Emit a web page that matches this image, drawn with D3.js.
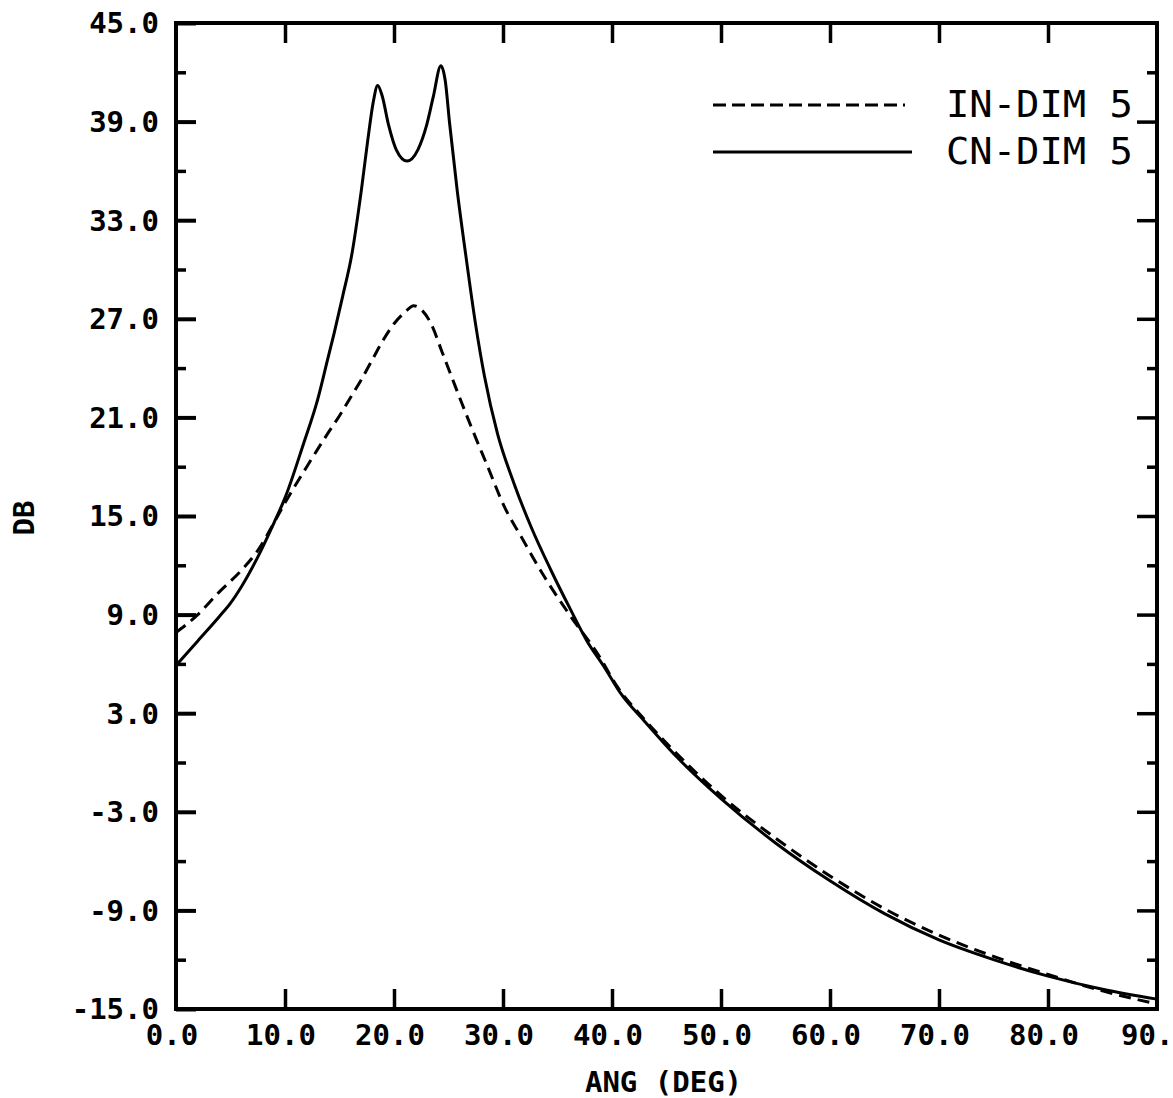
<!DOCTYPE html>
<html>
<head>
<meta charset="utf-8">
<script src="https://cdn.jsdelivr.net/npm/d3@7/dist/d3.min.js"></script>
<style>
  html, body { margin: 0; padding: 0; background: #fff; }
  svg { display: block; }
</style>
</head>
<body>
<svg id="chart" width="1173" height="1098"></svg>
<script>
// ---- data ----
const seriesNames = ["IN-DIM 5", "CN-DIM 5"];

const angIN = [0, 2, 4, 6, 7.5, 9, 10, 12, 14, 15, 16, 17, 18, 19, 20, 21, 21.8, 22.6, 23.4, 24.4, 25.5, 27.1, 28.6, 30.1, 31.7, 33.8, 36.2, 38.7, 40.5, 43, 46, 50, 55, 60, 65, 70, 75, 80, 85, 90];
const dbIN  = [7.9, 9.0, 10.4, 11.7, 12.9, 14.6, 15.8, 18.0, 20.1, 21.1, 22.2, 23.3, 24.5, 25.7, 26.7, 27.4, 27.8, 27.5, 26.7, 25.0, 23.1, 20.4, 18.0, 15.6, 13.7, 11.3, 8.9, 6.6, 4.6, 2.6, 0.5, -2.0, -4.6, -6.9, -8.9, -10.5, -11.8, -12.9, -13.9, -14.7];

const angCN = [0, 2, 4, 5, 6, 7.5, 9, 10, 11.7, 13, 13.9, 14.5, 15.3, 16.1, 17, 17.6, 18.1, 18.5, 18.9, 19.5, 20.2, 21.2, 22.2, 23.0, 23.6, 24.3, 24.7, 25.1, 25.8, 26.6, 27.5, 28.3, 29.5, 31.0, 32.6, 34.4, 36.2, 37.7, 39.3, 40.8, 43, 46, 50, 55, 60, 65, 70, 75, 80, 85, 90];
const dbCN  = [5.9, 7.4, 8.9, 9.7, 10.7, 12.5, 14.6, 16.1, 19.4, 22.1, 24.5, 26.1, 28.4, 30.8, 34.8, 37.9, 40.2, 41.2, 40.6, 38.8, 37.3, 36.6, 37.3, 38.8, 40.5, 42.4, 41.5, 38.9, 34.8, 30.8, 26.6, 23.5, 20.0, 17.0, 14.3, 11.7, 9.3, 7.4, 5.8, 4.2, 2.5, 0.3, -2.2, -4.9, -7.2, -9.2, -10.8, -12.0, -13.0, -13.8, -14.4];

const xTicks = [0, 10, 20, 30, 40, 50, 60, 70, 80, 90];
const xTickLabels = ["0.0", "10.0", "20.0", "30.0", "40.0", "50.0", "60.0", "70.0", "80.0", "90."];
const yTicks = [-15, -9, -3, 3, 9, 15, 21, 27, 33, 39, 45];
const yTickLabels = ["-15.0", "-9.0", "-3.0", "3.0", "9.0", "15.0", "21.0", "27.0", "33.0", "39.0", "45.0"];
const yMinorTicks = [-12, -6, 0, 6, 12, 18, 24, 30, 36, 42];

const xTitle = "ANG (DEG)";
const yTitle = "DB";

// ---- layout ----
const L = 176, R = 1157, T = 23, B = 1009;
const FONT = "'DejaVu Sans Mono', monospace";

const svg = d3.select("#chart");
const x = d3.scaleLinear().domain([0, 90]).range([L, R]);
const y = d3.scaleLinear().domain([-15, 45]).range([B, T]);

const axisStroke = 4;

// frame
svg.append("rect")
  .attr("x", L).attr("y", T).attr("width", R - L).attr("height", B - T)
  .attr("fill", "none").attr("stroke", "#000").attr("stroke-width", axisStroke);

// left axis
const gLeft = svg.append("g").attr("transform", `translate(${L},0)`);
gLeft.call(d3.axisRight(y).tickValues(yTicks).tickSize(20).tickFormat(""))
  .call(g => g.select(".domain").remove())
  .call(g => g.selectAll(".tick line").attr("stroke", "#000").attr("stroke-width", 4));
gLeft.append("g").call(d3.axisRight(y).tickValues(yMinorTicks).tickSize(10).tickFormat(""))
  .call(g => g.select(".domain").remove())
  .call(g => g.selectAll(".tick line").attr("stroke", "#000").attr("stroke-width", 3.5));

// left tick labels
svg.append("g").selectAll("text").data(yTicks).join("text")
  .attr("x", L - 17)
  .attr("y", d => y(d))
  .attr("dy", "0.36em")
  .attr("text-anchor", "end")
  .attr("font-family", FONT).attr("font-weight", "bold").attr("font-size", 29)
  .text((d, i) => yTickLabels[i]);

// right axis
const gRight = svg.append("g").attr("transform", `translate(${R},0)`);
gRight.call(d3.axisLeft(y).tickValues(yTicks.filter(v => v > -15 && v < 45)).tickSize(20).tickFormat(""))
  .call(g => g.select(".domain").remove())
  .call(g => g.selectAll(".tick line").attr("stroke", "#000").attr("stroke-width", 3.5));
gRight.append("g").call(d3.axisLeft(y).tickValues(yMinorTicks).tickSize(10).tickFormat(""))
  .call(g => g.select(".domain").remove())
  .call(g => g.selectAll(".tick line").attr("stroke", "#000").attr("stroke-width", 3.5));

// bottom axis
const innerX = xTicks.filter(v => v > 0 && v < 90);
svg.append("g").attr("transform", `translate(0,${B})`)
  .call(d3.axisTop(x).tickValues(innerX).tickSize(20).tickFormat(""))
  .call(g => g.select(".domain").remove())
  .call(g => g.selectAll(".tick line").attr("stroke", "#000").attr("stroke-width", 3.5));
// top axis
svg.append("g").attr("transform", `translate(0,${T})`)
  .call(d3.axisBottom(x).tickValues(innerX).tickSize(20).tickFormat(""))
  .call(g => g.select(".domain").remove())
  .call(g => g.selectAll(".tick line").attr("stroke", "#000").attr("stroke-width", 3.5));

// bottom tick labels
svg.append("g").selectAll("text").data(xTicks).join("text")
  .attr("x", d => x(d) - 4)
  .attr("y", 1035)
  .attr("dy", "0.36em")
  .attr("text-anchor", (d, i) => i === xTicks.length - 1 ? "start" : "middle")
  .attr("dx", (d, i) => i === xTicks.length - 1 ? -32 : 0)
  .attr("font-family", FONT).attr("font-weight", "bold").attr("font-size", 29)
  .text((d, i) => xTickLabels[i]);

// axis titles
svg.append("text")
  .attr("x", (L + R) / 2 - 3).attr("y", 1082).attr("dy", "0.36em")
  .attr("text-anchor", "middle")
  .attr("font-family", FONT).attr("font-weight", "bold").attr("font-size", 29)
  .text(xTitle);

svg.append("text")
  .attr("transform", `translate(24,${(T + B) / 2 + 2}) rotate(-90)`)
  .attr("dy", "0.36em")
  .attr("text-anchor", "middle")
  .attr("font-family", FONT).attr("font-weight", "bold").attr("font-size", 29)
  .text(yTitle);

// curves
const line = d3.line()
  .x(d => x(d[0])).y(d => y(d[1]))
  .curve(d3.curveMonotoneX);

const inData = angIN.map((a, i) => [a, dbIN[i]]);
const cnData = angCN.map((a, i) => [a, dbCN[i]]);

svg.append("path").datum(inData)
  .attr("d", line)
  .attr("fill", "none").attr("stroke", "#000").attr("stroke-width", 3)
  .attr("stroke-dasharray", "12,7");

svg.append("path").datum(cnData)
  .attr("d", line)
  .attr("fill", "none").attr("stroke", "#000").attr("stroke-width", 3);

// legend
const legend = svg.append("g");
const legY = [105, 152];
const legDash = ["13,6", null];
seriesNames.forEach((name, i) => {
  legend.append("line")
    .attr("x1", 713).attr("x2", i === 0 ? 905 : 912)
    .attr("y1", legY[i]).attr("y2", legY[i])
    .attr("stroke", "#000").attr("stroke-width", 3)
    .attr("stroke-dasharray", legDash[i]);
  legend.append("text")
    .attr("x", 946).attr("y", legY[i] - 1).attr("dy", "0.36em")
    .attr("font-family", FONT).attr("font-size", 37)
    .attr("textLength", 187).attr("lengthAdjust", "spacingAndGlyphs")
    .text(name);
});
</script>
</body>
</html>
